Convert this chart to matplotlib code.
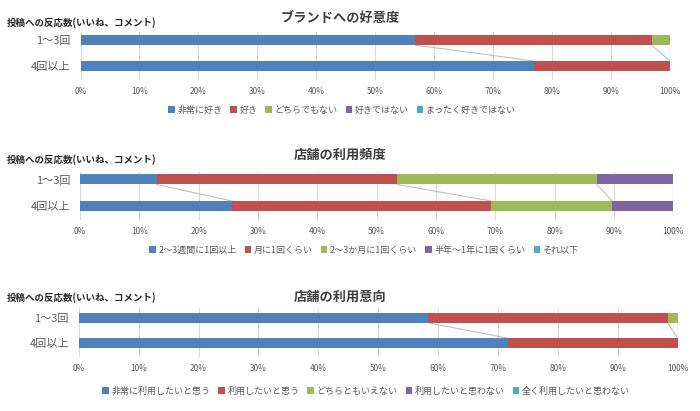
import numpy as np
import matplotlib
matplotlib.use('Agg')
import matplotlib.pyplot as plt
from matplotlib.patches import Patch

plt.rcParams['font.family'] = ['Noto Sans CJK JP', 'DejaVu Sans']

# data (percent)
groups = ['1～3回', '4回以上']
ylabel_text = '投稿への反応数(いいね、コメント)'

title1 = 'ブランドへの好意度'
series1 = ['非常に好き', '好き', 'どちらでもない', '好きではない', 'まったく好きではない']
values1 = [[56.7, 40.2, 3.1, 0, 0],
           [76.9, 23.1, 0, 0, 0]]

title2 = '店舗の利用頻度'
series2 = ['2～3週間に1回以上', '月に1回くらい', '2～3か月に1回くらい', '半年～1年に1回くらい', 'それ以下']
values2 = [[12.9, 40.5, 33.7, 12.9, 0],
           [25.6, 43.7, 20.4, 10.3, 0]]

title3 = '店舗の利用意向'
series3 = ['非常に利用したいと思う', '利用したいと思う', 'どちらともいえない', '利用したいと思わない', '全く利用したいと思わない']
values3 = [[58.3, 40.0, 1.7, 0, 0],
           [71.7, 28.3, 0, 0, 0]]

ticks = np.arange(0, 101, 10)
colors = ['#4F81BD', '#C0504D', '#9BBB59', '#8064A2', '#4BACC6']

W, H = 700, 411
fig = plt.figure(figsize=(W / 100, H / 100), dpi=100)


def panel(title, series, values, x0, x1, top, bottom, c0, c1, title_y, lab_y, leg_x, leg_y):
    # all layout params in pixels
    ax = fig.add_axes([x0 / W, 1 - bottom / H, (x1 - x0) / W, (bottom - top) / H])
    sp = c1 - c0
    ax.set_ylim(1 + (bottom - c1) / sp, -(c0 - top) / sp)
    ax.set_xlim(0, 100)
    bh = 10 / sp
    vals = np.array(values, dtype=float)
    ypos = np.arange(len(groups))
    left = np.zeros(len(groups))
    for i, name in enumerate(series):
        ax.barh(ypos, vals[:, i], left=left, height=bh, color=colors[i], zorder=3)
        left = left + vals[:, i]
        if i < len(series) - 1:
            # series lines between the two bars
            ax.plot([left[0], left[1]], [ypos[0] + bh / 2, ypos[1] - bh / 2],
                    color='#BFBFBF', lw=0.8, zorder=2)
    ax.set_xticks(ticks)
    ax.set_xticklabels([f'{t}%' for t in ticks], fontsize=6, color='#595959')
    ax.set_yticks(ypos)
    ax.set_yticklabels(groups, fontsize=8, color='#595959')
    ax.tick_params(axis='both', length=0)
    ax.tick_params(axis='x', pad=5)
    ax.tick_params(axis='y', pad=7)
    ax.grid(axis='x', color='#D9D9D9', lw=0.8, zorder=0)
    for s in ax.spines.values():
        s.set_visible(False)
    fig.text(340 / W, 1 - title_y / H, title, ha='center', va='center',
             fontsize=9.5, fontweight='bold', color='#404040')
    fig.text(7 / W, 1 - lab_y / H, ylabel_text, ha='left', va='center',
             fontsize=6.8, fontweight='bold', color='#262626')
    handles = [Patch(facecolor=c) for c in colors]
    fig.legend(handles, series, loc='center', bbox_to_anchor=(leg_x / W, 1 - leg_y / H),
               ncol=5, frameon=False, fontsize=6.5, labelcolor='#595959',
               handlelength=0.7, handleheight=0.7, handletextpad=0.3, columnspacing=0.9)
    return ax


panel(title1, series1, values1, 80.5, 670, 32, 80, 40, 66, 18, 23, 342, 110)
panel(title2, series2, values2, 80, 673.3, 172, 220, 179.5, 206, 155, 160, 364, 250)
panel(title3, series3, values3, 78.7, 677.7, 308, 356.7, 317.7, 343.3, 297, 297.5, 366, 391)

fig.savefig('out.png', dpi=100)
